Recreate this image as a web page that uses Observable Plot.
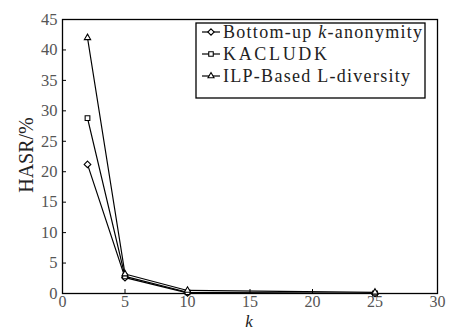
<!DOCTYPE html>
<html><head><meta charset="utf-8">
<script src="https://cdn.jsdelivr.net/npm/d3@7"></script>
<script src="https://cdn.jsdelivr.net/npm/@observablehq/plot@0.6"></script>
<style>
body{margin:0;background:#fff;}
</style></head><body>
<div id="chart"></div>
<script>
const kValues = [2, 5, 10, 25];
const seriesNames = ["Bottom-up k-anonymity", "KACLUDK", "ILP-Based L-diversity"];
const bottomUp = [21.2, 2.6, 0.1, 0.0];
const kacludk = [28.8, 2.8, 0.2, 0.0];
const ilp = [42.0, 3.2, 0.5, 0.2];
const xTicks = [0, 5, 10, 15, 20, 25, 30];
const yTicks = [0, 5, 10, 15, 20, 25, 30, 35, 40, 45];
const symbols = ["diamond2", "square2", "triangle2"];

const allSeries = [bottomUp, kacludk, ilp];
const data = allSeries.flatMap((vals, i) => vals.map((v, j) => ({k: kValues[j], v, s: seriesNames[i]})));
const font = '"Liberation Serif","DejaVu Serif",serif';

const chart = Plot.plot({
  width: 462, height: 332,
  marginLeft: 62, marginRight: 25, marginTop: 19, marginBottom: 39,
  style: {fontFamily: font, background: "#fff"},
  x: {domain: [0, 30], ticks: xTicks},
  y: {domain: [0, 45], ticks: yTicks},
  symbol: {domain: seriesNames, range: symbols},
  marks: [
    Plot.frame({stroke: "#000", strokeWidth: 1.3}),
    Plot.axisX({ticks: xTicks, tickSize: 0, tickPadding: 2, fontSize: 16, fill: "#555", label: null}),
    Plot.axisX({ticks: xTicks, tickSize: -4, text: null, label: null, stroke: "#000"}),
    Plot.axisY({ticks: yTicks, tickSize: 0, tickPadding: 5, fontSize: 16.5, fill: "#555", label: null}),
    Plot.axisY({ticks: yTicks, tickSize: -4, text: null, label: null, stroke: "#000"}),
    Plot.line(data, {x: "k", y: "v", z: "s", stroke: "#000", strokeWidth: 1.2}),
    Plot.dot(data, {x: "k", y: "v", symbol: "s", r: 3, stroke: "#000", fill: "#fff", strokeWidth: 1.1})
  ]
});
document.getElementById("chart").appendChild(chart);

const svg = d3.select(chart);
// axis labels
svg.append("text").attr("transform", "translate(33,155) rotate(-90)").attr("text-anchor", "middle")
  .attr("font-size", 20).attr("fill", "#222").attr("font-family", font).text("HASR/%");
svg.append("text").attr("x", 249).attr("y", 327).attr("text-anchor", "middle")
  .attr("font-size", 17).attr("font-style", "italic").attr("fill", "#222").attr("font-family", font).text("k");

// legend
const lg = svg.append("g").attr("font-family", font).attr("text-anchor", "start");
lg.append("rect").attr("x", 196).attr("y", 23).attr("width", 229).attr("height", 75)
  .attr("fill", "#fff").attr("stroke", "#000").attr("stroke-width", 1.3);
const symGen = [d3.symbolDiamond2, d3.symbolSquare2, d3.symbolTriangle2];
const rowY = [32, 54, 76];
const textLen = [199, 104, 187];
seriesNames.forEach((name, i) => {
  const y = rowY[i];
  lg.append("line").attr("x1", 202).attr("x2", 220).attr("y1", y).attr("y2", y).attr("stroke", "#000").attr("stroke-width", 1.2);
  lg.append("path").attr("transform", `translate(211,${y})`).attr("d", d3.symbol(symGen[i], 26)()).attr("fill", "#fff").attr("stroke", "#000").attr("stroke-width", 1.1);
  const t = lg.append("text").attr("x", 223).attr("y", y + 6).attr("font-size", 18).attr("fill", "#222")
    .attr("text-anchor", "start").attr("textLength", textLen[i]).attr("lengthAdjust", "spacing");
  if (i === 0) { t.append("tspan").text("Bottom-up "); t.append("tspan").attr("font-style", "italic").text("k"); t.append("tspan").text("-anonymity"); }
  else t.text(name);
});
</script>
</body></html>
